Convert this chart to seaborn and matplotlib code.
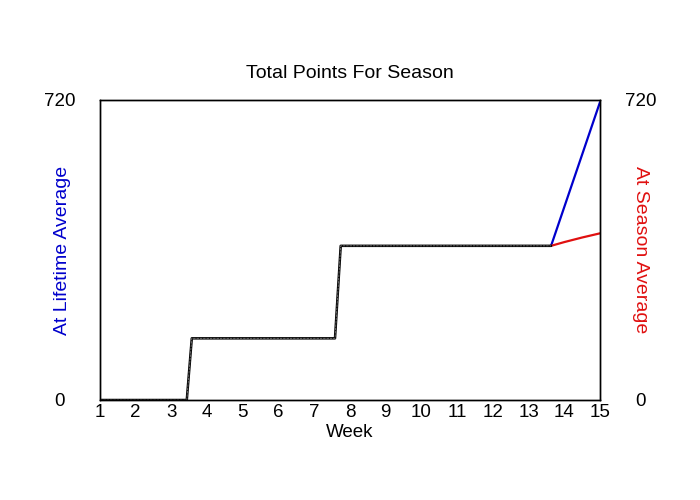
import matplotlib
matplotlib.use("Agg")
import matplotlib.pyplot as plt
import seaborn as sns
import pandas as pd

# weeks (fractional positions where the totals change) and total points
season_weeks = [1, 3.43, 3.57, 7.58, 7.74, 13.63]
season_points = [0, 0, 148, 148, 370, 370]

lifetime_weeks = [13.63, 15]
lifetime_points = [370, 715]

season_avg_weeks = [13.63, 14, 14.5, 15]
season_avg_points = [370, 379, 390, 400]

week_ticks = list(range(1, 16))

sns.set_style("white")
plt.rcParams['font.family'] = ['Liberation Sans', 'DejaVu Sans']
plt.rcParams['text.color'] = 'black'
plt.rcParams['xtick.color'] = 'black'
plt.rcParams['ytick.color'] = 'black'
plt.rcParams['axes.labelcolor'] = 'black'

df_season = pd.DataFrame({'Week': season_weeks, 'Points': season_points})
df_life = pd.DataFrame({'Week': lifetime_weeks, 'Points': lifetime_points})
df_avg = pd.DataFrame({'Week': season_avg_weeks, 'Points': season_avg_points})

fig = plt.figure(figsize=(7, 5), dpi=100)
ax = fig.add_axes([100 / 700, 0.2, 500 / 700, 0.6])

sns.lineplot(data=df_life, x='Week', y='Points', color='#0000cc', linewidth=1.6, ax=ax)
sns.lineplot(data=df_avg, x='Week', y='Points', color='#e01010', linewidth=1.6, ax=ax)
sns.lineplot(data=df_season, x='Week', y='Points', color='black', linewidth=1.8, ax=ax)
sns.lineplot(data=df_season, x='Week', y='Points', color='#777777', linewidth=0.6,
             linestyle=(0, (3, 1)), ax=ax)

ax.set_xlim(1, 15)
ax.set_ylim(0, 720)
ax.set_xticks(week_ticks)
ax.set_yticks([0, 720])
ax.tick_params(axis='x', length=0, pad=3, labelsize=13.5)
ax.tick_params(axis='y', length=0, pad=29, labelsize=13.5)
for lab in ax.get_yticklabels():
    lab.set_ha('center')
ax.set_xlabel('Week', fontsize=13.5, labelpad=2)
ax.set_ylabel('At Lifetime Average', color='#0000cc', fontsize=14)
ax.yaxis.label.set_va('center')
ax.yaxis.set_label_coords(-0.075, 0.5)
ax.set_title('Total Points For Season', fontsize=14, pad=16)

ax2 = ax.twinx()
ax2.set_ylim(0, 720)
ax2.set_yticks([0, 720])
ax2.tick_params(axis='y', length=0, pad=29, labelsize=13.5)
for lab in ax2.get_yticklabels():
    lab.set_ha('center')
ax2.set_ylabel('At Season Average', color='#e01010', fontsize=14, rotation=270)
ax2.yaxis.label.set_va('center')
ax2.yaxis.set_label_coords(1.08, 0.5)

for a in (ax, ax2):
    for s in a.spines.values():
        s.set_color('black')
        s.set_linewidth(1)

fig.savefig('out.png', dpi=100)
